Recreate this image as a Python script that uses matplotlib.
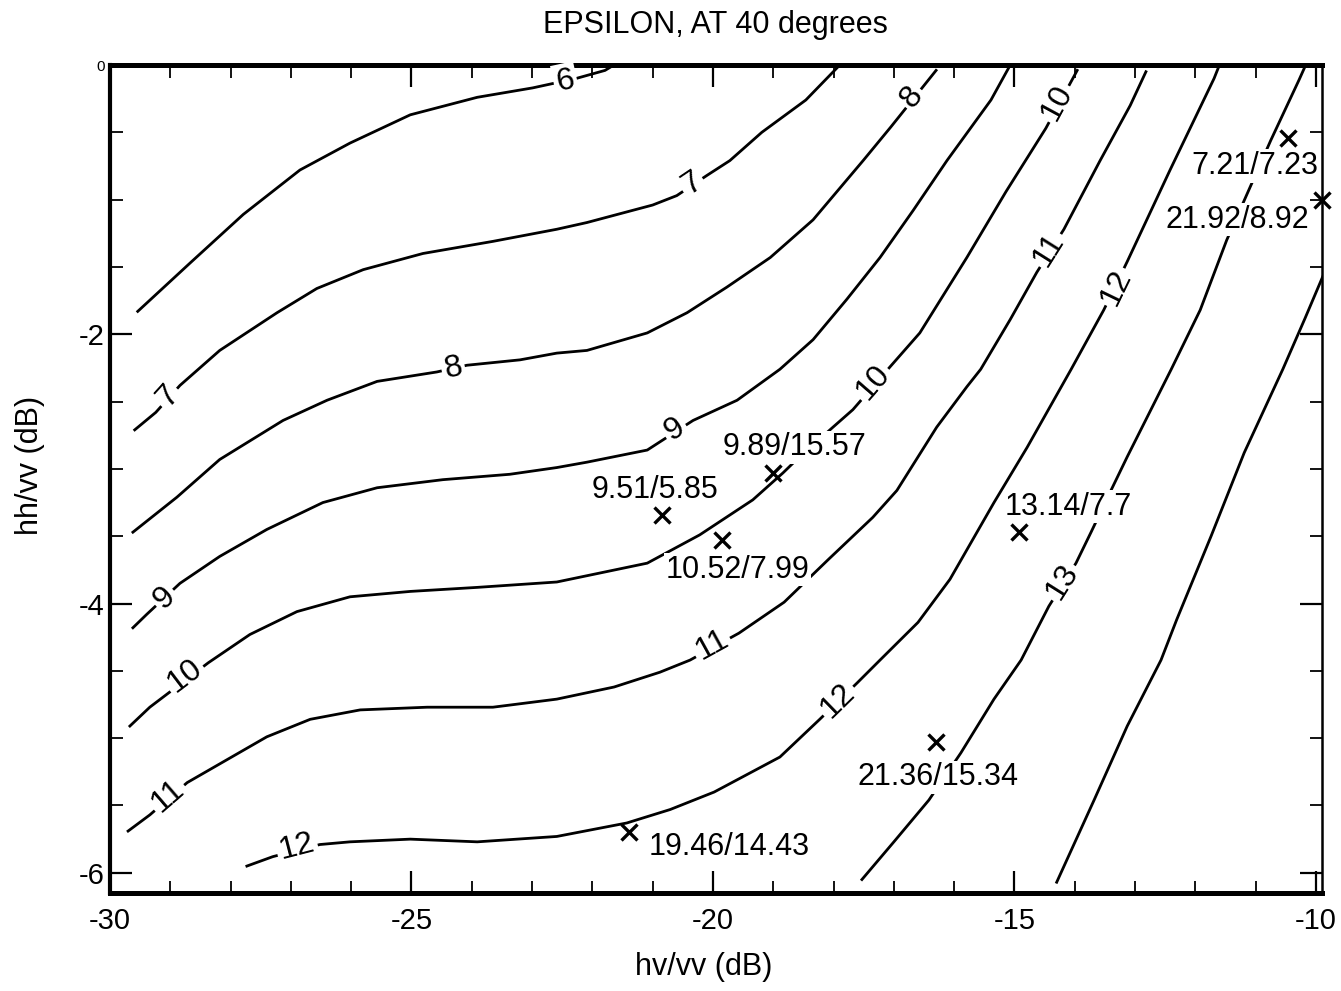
import numpy as np
import matplotlib.pyplot as plt

plt.rcParams['font.family'] = ['Liberation Sans', 'DejaVu Sans']
plt.rcParams['axes.unicode_minus'] = False

# contour lines, x = hv/vv (dB), y = hh/vv (dB)
c6_x = [-29.54, -28.67, -27.79, -26.85, -26.02, -25.02, -23.91, -22.99, -22.27, -21.79, -21.68]
c6_y = [-1.83, -1.47, -1.11, -0.78, -0.58, -0.37, -0.24, -0.17, -0.10, -0.04, -0.01]

c7_x = [-29.59, -29.24, -28.84, -28.18, -27.23, -26.57, -25.80, -24.81, -23.65, -22.59,
        -22.09, -21.00, -20.60, -20.10, -19.72, -19.19, -18.46, -17.94]
c7_y = [-2.71, -2.58, -2.38, -2.12, -1.84, -1.66, -1.52, -1.40, -1.31, -1.22,
        -1.17, -1.04, -0.97, -0.82, -0.71, -0.50, -0.26, -0.02]

c8_x = [-29.62, -28.89, -28.18, -27.13, -26.40, -25.57, -24.58, -24.08, -23.20, -22.59,
        -22.09, -21.09, -20.43, -19.77, -19.05, -18.34, -17.51, -17.05, -16.30]
c8_y = [-3.47, -3.21, -2.93, -2.64, -2.49, -2.35, -2.28, -2.23, -2.19, -2.14,
        -2.12, -1.99, -1.84, -1.65, -1.43, -1.15, -0.71, -0.46, -0.04]

c9_x = [-29.62, -29.39, -28.84, -28.18, -27.40, -26.47, -25.57, -24.48, -23.37, -22.59,
        -22.09, -21.09, -20.33, -19.60, -18.89, -18.34, -17.78, -17.23, -16.68, -16.12,
        -15.39, -15.07]
c9_y = [-4.18, -4.08, -3.85, -3.65, -3.45, -3.25, -3.14, -3.08, -3.04, -2.99,
        -2.95, -2.86, -2.64, -2.49, -2.26, -2.04, -1.74, -1.43, -1.08, -0.71,
        -0.26, 0.0]

c10_x = [-29.67, -29.34, -28.37, -27.68, -26.90, -26.02, -25.02, -23.91, -22.59, -21.09,
         -20.22, -19.34, -18.84, -18.61, -18.01, -17.68, -17.06, -16.57, -15.79, -15.14,
         -14.48, -13.96]
c10_y = [-4.91, -4.77, -4.44, -4.23, -4.06, -3.95, -3.91, -3.88, -3.84, -3.70,
         -3.49, -3.23, -3.03, -2.93, -2.69, -2.56, -2.24, -1.99, -1.43, -0.94,
         -0.47, -0.04]

c11_x = [-29.70, -29.34, -28.72, -28.06, -27.40, -26.68, -25.85, -24.74, -23.65, -22.59,
         -21.64, -20.88, -20.38, -19.57, -18.82, -18.08, -17.35, -16.95, -16.29, -15.79,
         -15.56, -15.07, -14.63, -14.18, -13.58, -13.08, -12.82]
c11_y = [-5.69, -5.57, -5.33, -5.16, -4.99, -4.86, -4.79, -4.77, -4.77, -4.71,
         -4.62, -4.51, -4.42, -4.22, -3.99, -3.67, -3.36, -3.16, -2.69, -2.39,
         -2.26, -1.89, -1.54, -1.22, -0.71, -0.30, -0.05]

c12_x = [-27.73, -27.30, -26.52, -26.02, -25.02, -23.91, -22.59, -21.43, -20.71, -19.98,
         -18.89, -18.23, -17.61, -17.23, -16.60, -16.07, -15.34, -14.79, -14.06, -13.52,
         -13.13, -12.42, -11.69, -11.61]
c12_y = [-5.95, -5.88, -5.79, -5.77, -5.75, -5.77, -5.73, -5.63, -5.53, -5.40,
         -5.14, -4.86, -4.59, -4.42, -4.14, -3.82, -3.25, -2.84, -2.26, -1.82,
         -1.46, -0.78, -0.10, -0.01]

c13_x = [-17.53, -17.00, -16.42, -15.89, -15.34, -14.89, -14.43, -13.98, -13.73, -13.40,
         -13.13, -12.40, -11.92, -11.48, -10.75, -10.28, -10.18]
c13_y = [-6.05, -5.77, -5.46, -5.11, -4.71, -4.42, -4.02, -3.70, -3.47, -3.16,
         -2.91, -2.26, -1.82, -1.30, -0.56, -0.11, -0.01]

c14_x = [-14.30, -13.68, -13.13, -12.57, -12.31, -11.74, -11.19, -10.55, -10.18, -9.82]
c14_y = [-6.07, -5.46, -4.91, -4.42, -4.12, -3.50, -2.88, -2.26, -1.88, -1.50]

contours = {6: (c6_x, c6_y), 7: (c7_x, c7_y), 8: (c8_x, c8_y), 9: (c9_x, c9_y),
            10: (c10_x, c10_y), 11: (c11_x, c11_y), 12: (c12_x, c12_y),
            13: (c13_x, c13_y), 14: (c14_x, c14_y)}

# inline contour labels
lab_level = [6, 7, 7, 8, 8, 9, 9, 10, 10, 10, 11, 11, 11, 12, 12, 12, 13]
lab_x = [-22.45, -20.35, -29.04, -24.31, -16.70, -20.63, -29.09, -17.35, -14.30, -28.76,
         -29.04, -20.02, -14.43, -26.90, -17.93, -13.32, -14.21]
lab_y = [-0.12, -0.88, -2.46, -2.25, -0.24, -2.71, -3.96, -2.36, -0.28, -4.54,
         -5.43, -4.31, -1.37, -5.81, -4.72, -1.65, -3.84]

# measured points
pt_x = [-10.46, -9.90, -19.00, -20.85, -19.85, -14.93, -16.30, -21.39]
pt_y = [-0.54, -1.00, -3.03, -3.34, -3.53, -3.47, -5.03, -5.70]
pt_text = ['7.21/7.23', '21.92/8.92', '9.89/15.57', '9.51/5.85', '10.52/7.99',
           '13.14/7.7', '21.36/15.34', '19.46/14.43']
txt_x = [-11.01, -11.31, -18.64, -20.96, -19.60, -14.11, -16.27, -19.73]
txt_y = [-0.75, -1.15, -2.84, -3.16, -3.75, -3.28, -5.29, -5.81]

x_major = [-30, -25, -20, -15, -10]
x_labels = ['-30', '-25', '-20', '-15', '-10']
y_major = [0, -2, -4, -6]
y_labels = ['0', '-2', '-4', '-6']


def angle_on_line(ax, xs, ys, x0, y0):
    """Screen angle of the contour segment closest to (x0, y0)."""
    pts = ax.transData.transform(np.column_stack([xs, ys]))
    p0 = ax.transData.transform((x0, y0))
    mids = (pts[1:] + pts[:-1]) / 2
    k = int(np.argmin(np.hypot(*(mids - p0).T)))
    dx, dy = pts[k + 1] - pts[k]
    ang = np.degrees(np.arctan2(dy, dx))
    if ang > 90:
        ang -= 180
    if ang < -90:
        ang += 180
    return ang


fig = plt.figure(figsize=(13.41, 9.91), dpi=100)
ax = fig.add_axes([110 / 1341, 98 / 991, 1212 / 1341, 828 / 991])
ax.set_xlim(-30, -9.9)
ax.set_ylim(-6.15, 0)

for lev, (xs, ys) in contours.items():
    ax.plot(xs, ys, color='black', lw=2.0, solid_joinstyle='round', zorder=2)

box = dict(facecolor='white', edgecolor='none', pad=2.0)
for lev, lx, ly in zip(lab_level, lab_x, lab_y):
    xs, ys = contours[lev]
    rot = angle_on_line(ax, xs, ys, lx, ly)
    ax.text(lx, ly, str(lev), fontsize=23, rotation=rot, rotation_mode='anchor',
            ha='center', va='center', bbox=box, zorder=3)

for tx, ty, s in zip(txt_x, txt_y, pt_text):
    ax.text(tx, ty, s, fontsize=22, ha='center', va='center',
            bbox=dict(facecolor='white', edgecolor='none', pad=1.0), zorder=3)
ax.plot(pt_x, pt_y, 'x', color='black', ms=11, mew=2.4, zorder=4, clip_on=False)

ax.set_xticks(x_major)
ax.set_xticklabels(x_labels, fontsize=21)
ax.set_xticks(np.arange(-29, -9.9, 1), minor=True)
ax.set_yticks(y_major)
ax.set_yticklabels(y_labels, fontsize=21)
ax.get_yticklabels()[0].set_fontsize(11)
ax.set_yticks(np.arange(-6, 0.01, 0.5), minor=True)
ax.tick_params(which='major', direction='in', length=16, width=1.6,
               top=True, right=True, pad=10)
ax.tick_params(axis='y', which='major', pad=4)
ax.tick_params(which='minor', direction='in', length=9, width=1.3,
               top=True, right=True)

ax.spines['top'].set_linewidth(3.6)
ax.spines['bottom'].set_linewidth(3.6)
ax.spines['left'].set_linewidth(3.0)
ax.spines['right'].set_linewidth(1.8)

fig.text(715 / 1341, 1 - 25 / 991, 'EPSILON, AT 40 degrees', fontsize=22,
         ha='center', va='center')
fig.text(704 / 1341, 1 - 967 / 991, 'hv/vv (dB)', fontsize=22, ha='center', va='center')
fig.text(30 / 1341, 1 - 465 / 991, 'hh/vv (dB)', fontsize=22, ha='center', va='center',
         rotation=90)

fig.savefig('out.png', dpi=100)
